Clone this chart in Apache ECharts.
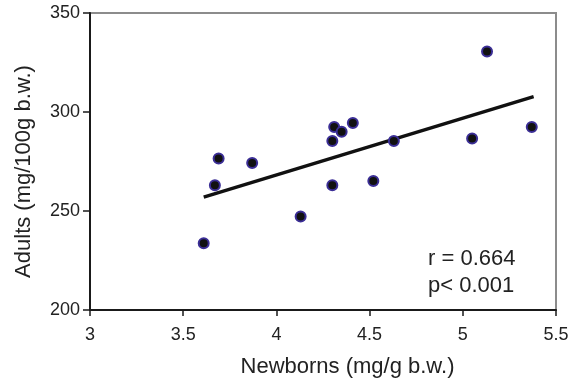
<!DOCTYPE html>
<html>
<head>
<meta charset="utf-8">
<script src="https://cdn.jsdelivr.net/npm/echarts@6/dist/echarts.min.js"></script>
<style>
  html, body { margin: 0; padding: 0; background: #fff; }
  #chart { width: 575px; height: 386px; }
</style>
</head>
<body>
<div id="chart"></div>
<script>
// Newborn vs adult values, one pair per subject
const newborns = [3.61, 3.67, 3.69, 3.87, 4.13, 4.30, 4.30, 4.31, 4.35, 4.41, 4.52, 4.63, 5.05, 5.13, 5.37];
const adults   = [233.7, 263.0, 276.5, 274.3, 247.2, 263.0, 285.4, 292.4, 290.0, 294.5, 265.2, 285.4, 286.6, 330.6, 292.4];

// Regression line end points
const fitX = [3.61, 5.38];
const fitY = [257.0, 307.8];

// Axis ranges and ticks
const xTicks = [3, 3.5, 4, 4.5, 5, 5.5];
const yTicks = [200, 250, 300, 350];

const statLines = ['r = 0.664', 'p< 0.001'];

const points = newborns.map((x, i) => [x, adults[i]]);
const fitLine = fitX.map((x, i) => [x, fitY[i]]);

const font = 'Liberation Sans, Arial, Helvetica, sans-serif';

const chart = echarts.init(document.getElementById('chart'), null, { renderer: 'canvas' });
chart.setOption({
  animation: false,
  backgroundColor: '#fff',
  textStyle: { fontFamily: font },
  grid: {
    left: 90, right: 19, top: 13, bottom: 76,
    show: true, borderColor: '#8c8c8c', borderWidth: 2, backgroundColor: 'transparent'
  },
  xAxis: {
    type: 'value',
    min: xTicks[0], max: xTicks[xTicks.length - 1], interval: 0.5,
    name: 'Newborns (mg/g b.w.)',
    nameLocation: 'middle', nameGap: 46,
    nameTextStyle: { fontSize: 22, color: '#222', fontFamily: font, padding: [0, 0, 0, 49] },
    axisLine: { show: true, lineStyle: { color: '#1a1a1a', width: 2 } },
    axisTick: { show: true, length: 6, lineStyle: { color: '#1a1a1a', width: 1.5 } },
    axisLabel: { fontSize: 18, color: '#222', margin: 16, fontFamily: font },
    splitLine: { show: false }
  },
  yAxis: {
    type: 'value',
    min: yTicks[0], max: yTicks[yTicks.length - 1], interval: 50,
    name: 'Adults (mg/100g b.w.)',
    nameLocation: 'middle', nameGap: 55,
    nameTextStyle: { fontSize: 22, color: '#222', fontFamily: font, padding: [0, 20, 0, 0] },
    axisLine: { show: true, lineStyle: { color: '#1a1a1a', width: 2 } },
    axisTick: { show: true, length: 7, lineStyle: { color: '#1a1a1a', width: 1.5 } },
    axisLabel: { fontSize: 18, color: '#222', margin: 10, fontFamily: font },
    splitLine: { show: false }
  },
  series: [
    {
      type: 'line',
      data: fitLine,
      showSymbol: false,
      symbol: 'none',
      lineStyle: { color: '#111', width: 3.5 },
      z: 2
    },
    {
      type: 'scatter',
      data: points,
      symbolSize: 10,
      itemStyle: { color: '#111', borderColor: '#3b2e96', borderWidth: 2, opacity: 1 },
      z: 3
    }
  ],
  graphic: [
    {
      type: 'text', left: 428, top: 248,
      style: { text: statLines[0], fontSize: 22, fill: '#222', fontFamily: font }
    },
    {
      type: 'text', left: 428, top: 275,
      style: { text: statLines[1], fontSize: 22, fill: '#222', fontFamily: font }
    }
  ]
});
</script>
</body>
</html>
